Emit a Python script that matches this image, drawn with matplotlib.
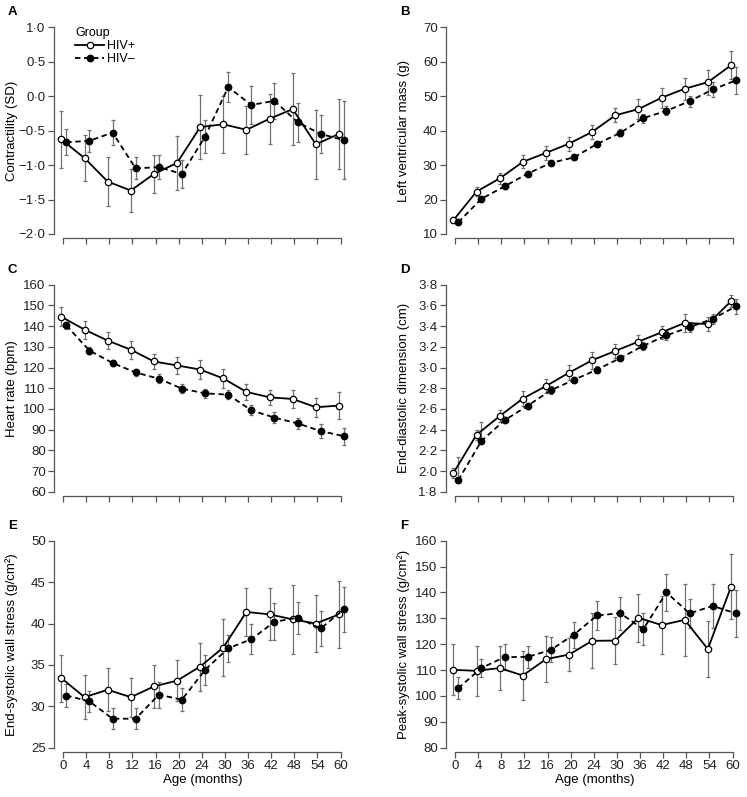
import matplotlib.pyplot as plt
import numpy as np

plt.rcParams["font.family"] = ["Liberation Sans", "DejaVu Sans"]
plt.rcParams["font.size"] = 9

ages = ["0", "4", "8", "12", "16", "20", "24", "30", "36", "42", "48", "54", "60"]

# A - contractility (SD)
contr_pos = [-0.63, -0.90, -1.24, -1.37, -1.13, -0.97, -0.45, -0.41, -0.49, -0.33, -0.19, -0.70, -0.55]
contr_pos_err = [0.41, 0.33, 0.35, 0.31, 0.28, 0.39, 0.47, 0.41, 0.35, 0.36, 0.52, 0.50, 0.51]
contr_neg = [-0.67, -0.65, -0.53, -1.05, -1.03, -1.13, -0.59, 0.13, -0.13, -0.07, -0.38, -0.55, -0.64]
contr_neg_err = [0.19, 0.16, 0.18, 0.16, 0.18, 0.20, 0.24, 0.22, 0.28, 0.26, 0.28, 0.27, 0.57]

# B - LV mass (g)
mass_pos = [14.0, 22.3, 26.1, 30.9, 33.5, 36.2, 39.6, 44.4, 46.2, 49.5, 52.1, 54.0, 58.9]
mass_pos_err = [0.5, 1.3, 1.5, 1.9, 2.0, 2.0, 2.0, 2.0, 2.9, 2.9, 3.2, 3.6, 4.0]
mass_neg = [13.4, 20.2, 23.8, 27.5, 30.6, 32.2, 36.1, 39.3, 43.6, 45.7, 48.5, 51.9, 54.5]
mass_neg_err = [0.4, 0.6, 0.7, 0.6, 0.6, 0.7, 0.9, 1.0, 1.3, 1.3, 1.6, 2.2, 3.9]

# C - heart rate (bpm)
hr_pos = [144.5, 138.3, 133.0, 128.6, 122.9, 121.0, 119.0, 114.7, 108.2, 105.6, 104.8, 100.8, 101.6]
hr_pos_err = [4.5, 4.4, 4.3, 4.4, 3.7, 4.2, 4.7, 4.5, 3.8, 3.6, 4.5, 4.7, 6.6]
hr_neg = [140.3, 128.2, 122.2, 117.6, 114.6, 109.8, 107.5, 106.9, 99.3, 95.8, 93.0, 89.3, 86.8]
hr_neg_err = [1.8, 1.7, 1.6, 1.7, 2.1, 2.2, 2.3, 2.3, 2.4, 2.6, 2.7, 3.2, 4.2]

# D - end-diastolic dimension (cm)
edd_pos = [1.98, 2.35, 2.53, 2.70, 2.82, 2.95, 3.07, 3.16, 3.25, 3.34, 3.43, 3.42, 3.64]
edd_pos_err = [0.05, 0.05, 0.06, 0.07, 0.07, 0.07, 0.08, 0.07, 0.06, 0.06, 0.09, 0.07, 0.06]
edd_neg = [1.91, 2.29, 2.49, 2.63, 2.78, 2.88, 2.98, 3.09, 3.21, 3.31, 3.39, 3.47, 3.59]
edd_neg_err_lo = [0.0, 0.02, 0.03, 0.03, 0.04, 0.03, 0.03, 0.03, 0.04, 0.04, 0.05, 0.05, 0.07]
edd_neg_err_hi = [0.23, 0.18, 0.03, 0.03, 0.04, 0.03, 0.03, 0.03, 0.04, 0.04, 0.05, 0.05, 0.07]

# E - end-systolic wall stress
ess_pos = [33.4, 31.1, 32.0, 31.1, 32.4, 33.1, 34.8, 37.1, 41.4, 41.1, 40.5, 40.0, 41.1]
ess_pos_err = [2.85, 2.65, 2.6, 2.35, 2.55, 2.5, 2.9, 3.4, 2.9, 3.15, 4.2, 3.5, 4.0]
ess_neg = [31.3, 30.6, 28.5, 28.5, 31.4, 30.8, 34.4, 37.0, 38.1, 40.2, 40.7, 39.4, 41.7]
ess_neg_err = [1.4, 1.25, 1.3, 1.25, 1.55, 1.4, 1.8, 1.65, 1.8, 2.25, 1.95, 2.1, 2.75]

# F - peak-systolic wall stress
pss_pos = [110.1, 109.7, 110.8, 107.9, 114.2, 116.0, 121.3, 121.4, 130.2, 127.4, 129.4, 118.1, 142.2]
pss_pos_err = [9.9, 9.6, 8.5, 9.5, 9.0, 6.5, 10.6, 9.0, 9.3, 11.1, 13.9, 10.7, 12.6]
pss_neg = [103.0, 110.8, 115.0, 115.1, 117.8, 123.7, 131.1, 132.0, 125.8, 140.0, 131.9, 134.8, 131.9]
pss_neg_err = [4.2, 3.3, 5.1, 4.3, 4.8, 5.0, 5.7, 6.4, 6.2, 7.2, 5.5, 8.4, 9.2]

panels = [
    ("A", "Contractility (SD)", contr_pos, contr_pos_err, contr_neg, contr_neg_err,
     np.arange(-2.0, 1.01, 0.5), 1),
    ("B", "Left ventricular mass (g)", mass_pos, mass_pos_err, mass_neg, mass_neg_err,
     np.arange(10, 71, 10), 0),
    ("C", "Heart rate (bpm)", hr_pos, hr_pos_err, hr_neg, hr_neg_err,
     np.arange(60, 161, 10), 0),
    ("D", "End-diastolic dimension (cm)", edd_pos, edd_pos_err, edd_neg,
     [edd_neg_err_lo, edd_neg_err_hi], np.arange(1.8, 3.81, 0.2), 1),
    ("E", "End-systolic wall stress (g/cm\u00b2)", ess_pos, ess_pos_err, ess_neg, ess_neg_err,
     np.arange(25, 51, 5), 0),
    ("F", "Peak-systolic wall stress (g/cm\u00b2)", pss_pos, pss_pos_err, pss_neg, pss_neg_err,
     np.arange(80, 161, 10), 0),
]

W, H = 747, 797
fig = plt.figure(figsize=(W / 100, H / 100), dpi=100)

lefts = [54, 446]
tops = [27, 284.7, 540.7]
ax_h = 207
ax_w = 297
x = np.arange(len(ages))
ecol = "#707070"
fs = 9.5

for i, (letter, ylab, ypos, epos, yneg, eneg, yticks, dec) in enumerate(panels):
    row, col = divmod(i, 2)
    ax = fig.add_axes([lefts[col] / W, 1 - (tops[row] + ax_h) / H, ax_w / W, ax_h / H])

    ax.errorbar(x - 0.07, ypos, yerr=epos, fmt="none", ecolor=ecol, elinewidth=0.9,
                capsize=1.6, capthick=0.9, zorder=1)
    ax.errorbar(x + 0.14, yneg, yerr=eneg, fmt="none", ecolor=ecol, elinewidth=0.9,
                capsize=1.6, capthick=0.9, zorder=1)
    ax.plot(x - 0.07, ypos, "-o", color="black", lw=1.3, ms=4.6, mfc="white",
            mec="black", mew=0.9, zorder=3, label="HIV+")
    ax.plot(x + 0.14, yneg, "--o", color="black", lw=1.3, ms=4.6, mfc="black",
            mec="black", dashes=(3, 2), zorder=4, label="HIV\u2013")

    ax.set_xlim(-0.39, 12.45)
    ax.set_ylim(yticks[0], yticks[-1])
    ax.set_yticks(yticks)
    if dec:
        ax.set_yticklabels([f"{v:.1f}".replace(".", "\u00b7").replace("-", "\u2212") for v in yticks])
    else:
        ax.set_yticklabels([f"{v:.0f}" for v in yticks])
    ax.set_xticks(x)
    if row == 2:
        ax.set_xticklabels(ages, fontsize=fs)
        ax.set_xlabel("Age (months)", fontsize=fs, labelpad=1)
    else:
        ax.set_xticklabels([])

    for s in ["top", "right"]:
        ax.spines[s].set_visible(False)
    ax.spines["bottom"].set_position(("outward", 3))
    ax.spines["bottom"].set_bounds(0, 12)
    for s in ["left", "bottom"]:
        ax.spines[s].set_color("#555555")
        ax.spines[s].set_linewidth(0.9)
    ax.tick_params(direction="out", length=4, width=0.9, color="#555555",
                   labelsize=fs, pad=2, labelcolor="#222222")
    ax.set_ylabel(ylab, fontsize=fs)
    ax.yaxis.set_label_coords(-36 / ax_w, 0.5)

    fig.text((lefts[col] - 46) / W, 1 - (tops[row] - 15) / H, letter,
             fontsize=9.5, fontweight="bold", ha="left", va="center")

    if letter == "A":
        leg = ax.legend(loc="upper left", bbox_to_anchor=(0.055, 1.025), frameon=False,
                        title="Group", fontsize=9, title_fontsize=9, handlelength=2.3,
                        handletextpad=0.2, labelspacing=0.1, borderaxespad=0,
                        alignment="left")

fig.savefig("out.png", dpi=100)
